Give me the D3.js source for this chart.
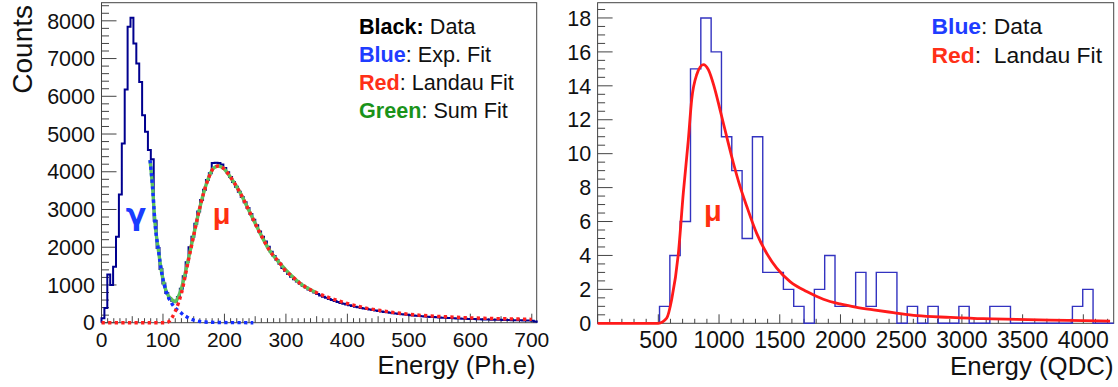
<!DOCTYPE html>
<html>
<head>
<meta charset="utf-8">
<script src="https://cdn.jsdelivr.net/npm/d3@7"></script>
<style>
  body { margin: 0; background: #fff; }
  svg { font-family: "Liberation Sans", Arial, Helvetica, sans-serif; }
</style>
</head>
<body>
<svg id="chart" width="1118" height="387"></svg>
<script>
// ---- left panel: photo-electron spectrum (150 bins over 0..708) ----
const leftRange = [0, 708];
const leftCounts = [
  120, 390, 1280, 1000, 1480, 2280, 3400, 4750, 6180, 7840,
  8080, 7400, 6870, 6380, 5500, 5060, 4575, 4330, 2700, 1980,
  1420, 1040, 790, 650, 580, 560, 680, 900, 1230, 1600,
  2000, 2280, 2620, 2950, 3250, 3520, 3780, 3960, 4230, 4240,
  4230, 4190, 4100, 3990, 3860, 3730, 3600, 3470, 3330, 3190,
  3040, 2880, 2730, 2580, 2420, 2280, 2150, 2010, 1880, 1770,
  1660, 1560, 1450, 1370, 1290, 1220, 1150, 1090, 1030, 980,
  930, 880, 840, 800, 760, 720, 690, 660, 630, 600,
  575, 550, 525, 505, 485, 465, 445, 425, 410, 392,
  378, 362, 348, 336, 322, 310, 298, 286, 275, 264,
  252, 242, 233, 224, 216, 208, 200, 193, 186, 179,
  172, 166, 160, 154, 149, 144, 139, 134, 130, 126,
  122, 118, 114, 111, 108, 104, 101, 98, 95, 93,
  90, 88, 85, 83, 81, 79, 77, 75, 73, 71,
  69, 68, 66, 64, 63, 61, 60, 58, 50, 35
];

// fitted curves
const expFitX = [79, 83, 87, 92.5, 98, 106, 114, 121, 128, 133, 139, 144, 150, 160, 175, 200, 247];
const expFitY = [4310, 3600, 2650, 1930, 1320, 790, 520, 370, 280, 210, 150, 105, 70, 32, 12, 4, 0];

const landauFitX = [0, 103, 108.6, 114, 119.7, 125, 130.7, 136, 141.5, 149.6, 157.8, 166, 174, 182, 190,
  198.5, 209.3, 225, 242, 258, 274, 291, 296, 310, 323, 350, 378, 405, 432, 459, 486, 513, 568, 622, 676, 700];
const landauFitY = [0, 0, 20, 117, 290, 514, 821, 1219, 1661, 2278, 2898, 3428, 3825, 4090, 4151,
  4090, 3868, 3460, 2900, 2370, 1900, 1560, 1441, 1230, 1044, 795, 620, 487, 381, 310, 249, 204, 151, 117, 98, 88];

const sumFitX = [79, 83, 87, 92.5, 98, 106, 114, 120, 125, 130.7, 136, 141.5, 149.6, 157.8, 166, 174, 182, 190,
  198.5, 209.3, 225, 242, 258, 274, 291, 310, 323, 350];
const sumFitY = [4310, 3600, 2650, 1930, 1320, 800, 620, 555, 690, 950, 1300, 1700, 2300, 2900, 3430, 3830, 4090, 4151,
  4090, 3868, 3460, 2900, 2370, 1900, 1560, 1230, 1044, 795];

// ---- right panel: QDC spectrum (50 bins over 0..4250) ----
const rightRange = [0, 4250];
const rightCounts = [
  0, 0, 0, 0, 0, 0, 1, 4, 6, 15,
  18, 16, 11, 9, 5, 11, 3, 3, 2, 1,
  0, 2, 4, 1, 1, 3, 1, 3, 3, 0,
  1, 0, 1, 0, 0, 1, 0, 0, 1, 1,
  0, 0, 0, 0, 0, 0, 1, 2, 0, 0
];
const rightFitX = [0, 500, 569, 610, 665, 706, 747, 775, 816, 871, 912, 959, 1008, 1063, 1118, 1173, 1228,
  1310, 1392, 1475, 1585, 1722, 1859, 1996, 2134, 2271, 2435, 2628, 2903, 3177, 3451, 3726, 4000, 4220];
const rightFitY = [0, 0, 0.3, 1.4, 4.1, 7.7, 10.8, 13.2, 14.65, 15.25, 14.95, 13.97, 12.6, 11.0, 9.45, 8.07, 6.9,
  5.3, 4.13, 3.25, 2.46, 1.87, 1.42, 1.14, 0.94, 0.79, 0.63, 0.45, 0.35, 0.27, 0.23, 0.19, 0.16, 0.13];

const leftTicksX = d3.range(0, 701, 100);
const leftTicksY = d3.range(0, 8001, 1000);
const rightTicksX = d3.range(500, 4001, 500);
const rightTicksY = d3.range(0, 19, 2);

const svg = d3.select("#chart");

const xL = d3.scaleLinear().domain(leftRange).range([101.5, 536.7]);
const yL = d3.scaleLinear().domain([0, 8480]).range([322.7, 2.7]);
const xR = d3.scaleLinear().domain(rightRange).range([597.6, 1113.7]);
const yR = d3.scaleLinear().domain([0, 18.9]).range([323.3, 2.7]);

// step outline of a histogram
function histPath(counts, range, x, y) {
  const w = (range[1] - range[0]) / counts.length;
  const pts = [[range[0], 0]];
  counts.forEach((c, i) => {
    pts.push([range[0] + i * w, c]);
    pts.push([range[0] + (i + 1) * w, c]);
  });
  pts.push([range[1], 0]);
  return d3.line().x(d => x(d[0])).y(d => y(d[1]))(pts);
}

function curve(xs, ys, x, y) {
  return d3.line().x(d => x(d[0])).y(d => y(d[1])).curve(d3.curveMonotoneX)(xs.map((v, i) => [v, ys[i]]));
}

// ROOT-like frame with inward ticks
function frame(x, y, opt) {
  const g = svg.append("g");
  const [x0, x1] = x.range();
  const [y0, y1] = y.range();
  g.append("rect").attr("x", x0).attr("y", y1).attr("width", x1 - x0).attr("height", y0 - y1)
    .attr("fill", "none").attr("stroke", "#444").attr("stroke-width", 1);

  opt.xMinor.forEach(v => {
    const len = opt.xMajor.includes(v) ? 9 : (opt.xMid && opt.xMid.includes(v) ? 6.5 : 4.5);
    g.append("line").attr("x1", x(v)).attr("x2", x(v)).attr("y1", y0).attr("y2", y0 - len)
      .attr("stroke", "#444").attr("stroke-width", 1);
  });
  opt.yMinor.forEach(v => {
    const len = opt.yMajor.includes(v) ? 15 : 7.5;
    g.append("line").attr("x1", x0).attr("x2", x0 + len).attr("y1", y(v)).attr("y2", y(v))
      .attr("stroke", "#444").attr("stroke-width", 1);
  });

  g.selectAll(".xl").data(opt.xLabels).join("text")
    .attr("x", d => x(d)).attr("y", opt.xLabelY)
    .attr("text-anchor", "middle").attr("font-size", opt.xFont).attr("fill", "#111")
    .text(d => d);
  g.selectAll(".yl").data(opt.yLabels).join("text")
    .attr("x", x0 - 6.5).attr("y", d => y(d)).attr("dy", "0.36em")
    .attr("text-anchor", "end").attr("font-size", opt.yFont).attr("fill", "#111")
    .text(d => d);
  return g;
}

// ---------- left panel ----------
frame(xL, yL, {
  xMajor: leftTicksX, xMid: d3.range(50, 701, 100), xMinor: d3.range(0, 708, 10),
  yMajor: leftTicksY, yMinor: d3.range(0, 8481, 200),
  xLabels: leftTicksX, yLabels: leftTicksY, xLabelY: 347, xFont: 21, yFont: 21.5
});

svg.append("path").attr("d", histPath(leftCounts, leftRange, xL, yL))
  .attr("fill", "none").attr("stroke", "#00008f").attr("stroke-width", 2);

svg.append("path").attr("d", curve(sumFitX, sumFitY, xL, yL))
  .attr("fill", "none").attr("stroke", "#5cc35c").attr("stroke-width", 3.4);
svg.append("path").attr("d", curve(expFitX, expFitY, xL, yL))
  .attr("fill", "none").attr("stroke", "#1530ff").attr("stroke-width", 3.4)
  .attr("stroke-dasharray", "3.3,3.3");
svg.append("path").attr("d", curve(landauFitX, landauFitY, xL, yL))
  .attr("fill", "none").attr("stroke", "#ff2020").attr("stroke-width", 3.4)
  .attr("stroke-dasharray", "3.3,3.3");

svg.append("text").attr("transform", "translate(31.5,5) rotate(-90)")
  .attr("text-anchor", "end").attr("font-size", 28).attr("fill", "#111").text("Counts");
svg.append("text").attr("x", 535.5).attr("y", 374).attr("text-anchor", "end")
  .attr("font-size", 25.6).attr("fill", "#111").text("Energy (Ph.e)");

svg.append("text").attr("x", 136).attr("y", 225).attr("text-anchor", "middle")
  .attr("font-family", "DejaVu Sans").attr("font-size", 30).attr("font-weight", "bold")
  .attr("fill", "#1a3cff").text("γ");
svg.append("text").attr("x", 221.7).attr("y", 224).attr("text-anchor", "middle")
  .attr("font-size", 29).attr("font-weight", "bold").attr("fill", "#ff3010").text("μ");

const legendL = [
  { key: "Black:", color: "#000", rest: " Data" },
  { key: "Blue", color: "#1f3dff", rest: ": Exp. Fit" },
  { key: "Red", color: "#ff3018", rest: ": Landau Fit" },
  { key: "Green", color: "#1a931a", rest: ": Sum Fit" }
];
legendL.forEach((d, i) => {
  const t = svg.append("text").attr("x", 359).attr("y", 33.5 + i * 28.3)
    .attr("font-size", 21.6).style("white-space", "pre");
  t.append("tspan").attr("font-weight", "bold").attr("fill", d.color).text(d.key);
  t.append("tspan").attr("fill", "#111").text(d.rest);
});

// ---------- right panel ----------
frame(xR, yR, {
  xMajor: d3.range(0, 4250, 500), xMinor: d3.range(0, 4250, 100),
  yMajor: rightTicksY, yMinor: d3.range(0, 18.9, 0.5),
  xLabels: rightTicksX, yLabels: rightTicksY, xLabelY: 347.5, xFont: 23, yFont: 21.5
});

svg.append("path").attr("d", histPath(rightCounts, rightRange, xR, yR))
  .attr("fill", "none").attr("stroke", "#3333c0").attr("stroke-width", 1.4);
svg.append("path").attr("d", curve(rightFitX, rightFitY, xR, yR))
  .attr("fill", "none").attr("stroke", "#ff1a1a").attr("stroke-width", 2.8);

svg.append("text").attr("x", 1113.5).attr("y", 375).attr("text-anchor", "end")
  .attr("font-size", 25.8).attr("fill", "#111").text("Energy (QDC)");
svg.append("text").attr("x", 712.8).attr("y", 221).attr("text-anchor", "middle")
  .attr("font-size", 29).attr("font-weight", "bold").attr("fill", "#ff3010").text("μ");

const legendR = [
  { key: "Blue", color: "#1f3dff", rest: ": Data" },
  { key: "Red", color: "#ff3018", rest: ":  Landau Fit" }
];
legendR.forEach((d, i) => {
  const t = svg.append("text").attr("x", 931.5).attr("y", 34.3 + i * 28.4)
    .attr("font-size", 22.9).style("white-space", "pre");
  t.append("tspan").attr("font-weight", "bold").attr("fill", d.color).text(d.key);
  t.append("tspan").attr("fill", "#111").text(d.rest);
});
</script>
</body>
</html>
